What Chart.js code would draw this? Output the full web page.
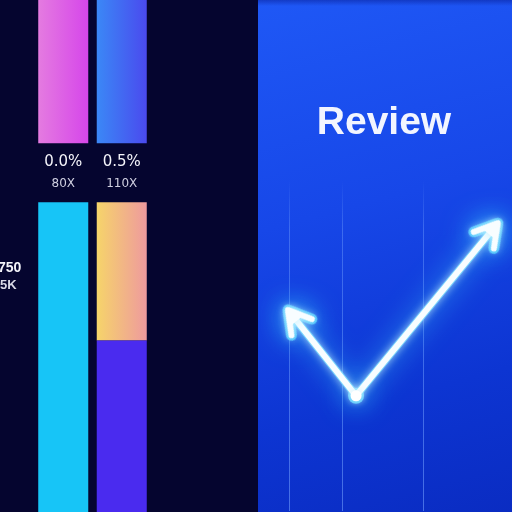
<!DOCTYPE html>
<html><head><meta charset="utf-8">
<script src="https://cdn.jsdelivr.net/npm/chart.js@4/dist/chart.umd.min.js"></script>
<style>
html,body{margin:0;padding:0;width:512px;height:512px;overflow:hidden;background:#05052f;}
#lp{position:absolute;left:0;top:0;width:256px;height:512px;background:#05052f;}
#rp{position:absolute;left:256px;top:0;width:256px;height:512px;
 background:linear-gradient(90deg,#05052f 0,#05052f 2px,transparent 2px),
 linear-gradient(180deg,rgba(8,30,150,0.5) 0,rgba(8,30,150,0) 6px),
 linear-gradient(165deg,#1f58f6 0%,#1747e8 40%,#0d35d2 75%,#0a2cc2 100%);}
canvas{display:block;}
</style></head>
<body>
<div id="lp"><canvas id="c1" width="256" height="512"></canvas></div>
<div id="rp"><canvas id="c2" width="256" height="512"></canvas></div>
<script>
// ---- left panel data ----
const barCategories = ['A', 'B'];
const cyanSeg   = [60.5, null];
const indigoSeg = [null, 33.5];
const yellowSeg = [null, 27];
const gapSeg    = [11.5, 11.5];
const topSeg    = [28, 28];
const pctLabels  = ['0.0%', '0.5%'];
const multLabels = ['80X', '110X'];
const sideLabels = ['750', '5K'];

// ---- right panel data ----
const checkX = [12.2, 39.0, 94.8];
const checkY = [60.7, 34.8, 86.9];
const gridX  = [12.9, 33.5, 65.5];
const titleText = 'Review';

const BAR_PCT = 0.855;
function hGrad(c, colors) {
  const chart = c.chart, xs = chart.scales.x;
  if (!xs || !chart.chartArea) return colors[0];
  const cx = xs.getPixelForValue(c.dataIndex);
  const w = (xs.width / barCategories.length) * BAR_PCT;
  const g = chart.ctx.createLinearGradient(cx - w / 2, 0, cx + w / 2, 0);
  g.addColorStop(0, colors[0]); g.addColorStop(1, colors[1]);
  return g;
}
const topColors = [['#e47be0', '#d646ea'], ['#3b88f6', '#4a4aee']];

const leftLabels = {
  id: 'leftLabels',
  afterDatasetsDraw(chart) {
    const ctx = chart.ctx, xs = chart.scales.x, ys = chart.scales.y;
    ctx.save();
    ctx.textAlign = 'center'; ctx.textBaseline = 'middle';
    barCategories.forEach((_, i) => {
      const base = (cyanSeg[i] || 0) + (indigoSeg[i] || 0) + (yellowSeg[i] || 0);
      const mid = ys.getPixelForValue(base + gapSeg[i] / 2);
      const x = xs.getPixelForValue(i);
      ctx.fillStyle = '#f4f4fa';
      ctx.font = '15px "DejaVu Sans", sans-serif';
      ctx.fillText(pctLabels[i], x, mid - 11);
      ctx.fillStyle = '#cfcfe0';
      ctx.font = '12px "DejaVu Sans", sans-serif';
      ctx.fillText(multLabels[i], x, mid + 11);
    });
    ctx.textAlign = 'left';
    ctx.fillStyle = '#f4f4fa';
    ctx.font = 'bold 14px "Liberation Sans", sans-serif';
    ctx.fillText(sideLabels[0], -2, 268);
    ctx.fillStyle = '#d8d8e6';
    ctx.font = 'bold 13px "Liberation Sans", sans-serif';
    ctx.fillText(sideLabels[1], 0, 285);
    ctx.restore();
  }
};

new Chart(document.getElementById('c1'), {
  type: 'bar',
  data: {
    labels: barCategories,
    datasets: [
      { data: cyanSeg, backgroundColor: '#17c5f7' },
      { data: indigoSeg, backgroundColor: '#4a2bef' },
      { data: yellowSeg, backgroundColor: c => hGrad(c, ['#f6d46a', '#ee9a9e']) },
      { data: gapSeg, backgroundColor: 'rgba(0,0,0,0)' },
      { data: topSeg, backgroundColor: c => hGrad(c, topColors[c.dataIndex] || topColors[0]) }
    ]
  },
  options: {
    responsive: false, animation: false,
    layout: { padding: { left: 34, right: 105, top: 0, bottom: 0 } },
    datasets: { bar: { barPercentage: BAR_PCT, categoryPercentage: 1, borderWidth: 0 } },
    scales: {
      x: { stacked: true, display: false },
      y: { stacked: true, display: false, min: 0, max: 100 }
    },
    plugins: { legend: { display: false }, tooltip: { enabled: false }, title: { display: false } }
  },
  plugins: [leftLabels]
});

// arrow head images
function makeArrow(color, width) {
  const cv = document.createElement('canvas');
  cv.width = 64; cv.height = 64;
  const x = cv.getContext('2d');
  x.strokeStyle = color; x.fillStyle = color;
  x.lineWidth = width; x.lineCap = 'round'; x.lineJoin = 'round';
  x.beginPath();
  x.moveTo(32 - 13, 32 + 22); x.lineTo(32, 32); x.lineTo(32 + 13, 32 + 22);
  x.stroke();
  x.beginPath();
  x.moveTo(32, 31); x.lineTo(32 - 8, 32 + 14); x.lineTo(32 + 8, 32 + 14); x.closePath();
  x.fill();
  return cv;
}
const arrowGlow = makeArrow('rgba(80,210,255,0.85)', 11);
const arrowCore = makeArrow('#f8fdff', 6);

function arrowRot(c) {
  const i = c.dataIndex, ch = c.chart, xs = ch.scales.x, ys = ch.scales.y;
  if (!xs || !ys || i === 1) return 0;
  const dx = xs.getPixelForValue(checkX[i]) - xs.getPixelForValue(checkX[1]);
  const dy = ys.getPixelForValue(checkY[i]) - ys.getPixelForValue(checkY[1]);
  return Math.atan2(dx, -dy) * 180 / Math.PI;
}

// dataset 0 = white core (drawn last, on top), dataset 1 = cyan glow
const glow = {
  id: 'glow',
  beforeDatasetDraw(chart, args) {
    chart.ctx.save();
    chart.ctx.shadowColor = args.index === 1 ? '#3ccfff' : '#c8f2ff';
    chart.ctx.shadowBlur = args.index === 1 ? 28 : 8;
  },
  afterDatasetDraw(chart) { chart.ctx.restore(); }
};

const pts = checkX.map((x, i) => ({ x: x, y: checkY[i] }));

new Chart(document.getElementById('c2'), {
  type: 'line',
  data: {
    datasets: [
      { data: pts, borderColor: '#f8fdff', borderWidth: 6, clip: false,
        pointStyle: c => c.dataIndex === 1 ? 'circle' : arrowCore,
        pointRadius: c => c.dataIndex === 1 ? 5.5 : 1,
        pointHoverRadius: 0,
        pointBackgroundColor: '#ffffff', pointBorderWidth: 0,
        rotation: arrowRot },
      { data: pts, borderColor: 'rgba(80,210,255,0.85)', borderWidth: 8, clip: false,
        pointStyle: c => c.dataIndex === 1 ? 'circle' : arrowGlow,
        pointRadius: c => c.dataIndex === 1 ? 8 : 1,
        pointHoverRadius: 0,
        pointBackgroundColor: 'rgba(80,210,255,0.85)', pointBorderWidth: 0,
        rotation: arrowRot }
    ]
  },
  options: {
    responsive: false, animation: false,
    layout: { padding: 0 },
    scales: {
      x: { type: 'linear', min: 0, max: 100, offset: false,
           afterBuildTicks: ax => { ax.ticks = gridX.map(v => ({ value: v })); },
           ticks: { display: false }, border: { display: false },
           grid: { drawTicks: false, lineWidth: 1,
             color: c => {
               const ch = c.chart, a = ch.chartArea;
               if (!a) return 'rgba(110,160,255,0.45)';
               const g = ch.ctx.createLinearGradient(0, a.top, 0, a.bottom);
               g.addColorStop(0, 'rgba(120,165,255,0)');
               g.addColorStop(0.15, 'rgba(120,165,255,0.4)');
               g.addColorStop(1, 'rgba(120,165,255,0.55)');
               return g;
             } } },
      y: { type: 'linear', min: 0, max: 100, display: false }
    },
    plugins: {
      legend: { display: false }, tooltip: { enabled: false },
      title: { display: true, text: titleText, color: '#f2f5ff',
        font: { family: '"Liberation Sans", Arial, sans-serif', size: 39, weight: 'bold' },
        padding: { top: 100, bottom: 33 } }
    }
  },
  plugins: [glow]
});
</script>
</body></html>
